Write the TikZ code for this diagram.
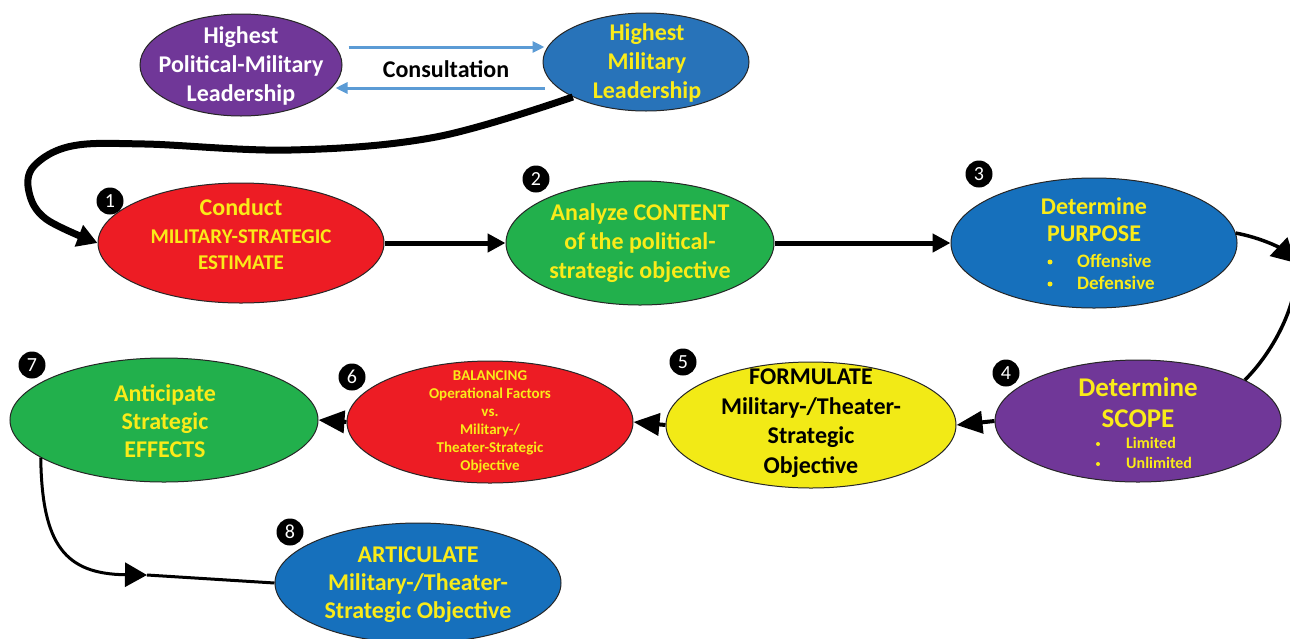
\documentclass[tikz,border=0pt]{standalone}
\usepackage{fontspec}
\setmainfont{Carlito}
\usetikzlibrary{arrows.meta,shapes.geometric}
\definecolor{purpC}{RGB}{112,55,152}
\definecolor{blueC}{RGB}{22,112,188}
\definecolor{blueB}{RGB}{40,115,185}
\definecolor{redC}{RGB}{237,28,36}
\definecolor{greenC}{RGB}{34,176,76}
\definecolor{yellowF}{RGB}{242,234,22}
\definecolor{txtY}{RGB}{250,235,25}
\definecolor{lblue}{RGB}{91,155,213}
\tikzset{
  oval/.style={ellipse, draw=black!85, line width=1pt, inner sep=0pt},
  tx/.style={font=\bfseries\fontsize{24}{29}\selectfont, align=center, inner sep=0pt, text=txtY},
  small/.style={font=\bfseries\fontsize{#1}{#1}\selectfont, inner sep=0pt, text=txtY},
  bul/.style={circle, fill=txtY, minimum size=#1, inner sep=0pt},
  badge/.style={circle, fill=black, text=white, minimum size=27pt, inner sep=0pt, font=\fontsize{20}{20}\selectfont},
  arrA/.style={line width=5pt, -{Triangle[length=18pt,width=18pt]}},
  arrB/.style={line width=4pt, -{Triangle[length=26pt,width=22pt]}},
  bigarr/.style={line width=7pt, -{Triangle[length=20pt,width=22pt]}},
  midarr/.style={line width=3.5pt, -{Triangle[length=24pt,width=25pt]}},
  plainline/.style={line width=3.5pt},
  cons/.style={draw=lblue, line width=3pt, -{Triangle[length=12pt,width=11pt]}},
}
\begin{document}
\begin{tikzpicture}[x=1pt,y=-1pt]
\clip (0,0) rectangle (1290,638);
\fill[white] (0,0) rectangle (1290,638);

% top row
\node[oval, fill=purpC, minimum width=202pt, minimum height=102pt] (A) at (241,65) {};
\node[tx, text=white] (At) at (241,66) {Highest\\Political-Military\\Leadership};
\node[oval, fill=blueB, minimum width=206pt, minimum height=98pt] (B) at (646,62) {};
\node[tx] (Bt) at (647,63) {Highest\\Military\\Leadership};
\node[tx, text=black] (cons) at (446,69) {Consultation};
\draw[cons] ([shift={(6,-18)}]A.east) -- ([shift={(2,-15)}]B.west);
\draw[cons] ([shift={(2,26)}]B.west) -- ([shift={(-7,23)}]A.east);

% step 1
\node[oval, fill=redC, minimum width=286pt, minimum height=120pt] (E1) at (241,243) {};
\node[tx] (E1t) at (241,234) {Conduct\\[-1pt]{\fontsize{21}{26}\selectfont MILITARY-STRATEGIC}\\[-3pt]{\fontsize{21}{26}\selectfont ESTIMATE}};
\node[badge] (n1) at (110,201) {1};

% step 2
\node[oval, fill=greenC, minimum width=268pt, minimum height=124pt] (E2) at (640,243) {};
\node[tx] (E2t) at (640,243) {Analyze CONTENT\\of the political-\\strategic objective};
\node[badge] (n2) at (536,179) {2};

% step 3
\node[oval, fill=blueC, minimum width=286pt, minimum height=130pt] (E3) at (1094,243) {};
\node[tx] (E3t) at (1094,219.5) {Determine\\[-2pt]PURPOSE};
\node[bul=5pt] (E3b1) at (1050,262) {};
\node[small=19, anchor=west] (E3o) at (1077,261) {Offensive};
\node[bul=5pt] (E3b2) at (1050,284) {};
\node[small=19, anchor=west] (E3d) at (1077,283) {Defensive};
\node[badge] (n3) at (979,174) {3};

% step 4
\node[oval, fill=purpC, minimum width=286pt, minimum height=122pt] (E4) at (1138,421) {};
\node[tx, font=\bfseries\fontsize{27}{31}\selectfont] (E4t) at (1138,402.5) {Determine\\SCOPE};
\node[bul=4pt] (E4b1) at (1098,444) {};
\node[small=16, anchor=west] (E4l) at (1126,443) {Limited};
\node[bul=4pt] (E4b2) at (1098,464) {};
\node[small=16, anchor=west] (E4u) at (1126,463) {Unlimited};
\node[badge] (n4) at (1006,373) {4};

% step 5
\node[oval, fill=yellowF, minimum width=290pt, minimum height=126pt] (E5) at (811,425) {};
\node[tx, text=black, font=\bfseries\fontsize{24}{29.6}\selectfont] (E5t) at (811,423) {FORMULATE\\Military-/Theater-\\Strategic\\Objective};
\node[badge] (n5) at (683,362) {5};

% step 6
\node[oval, fill=redC, minimum width=286pt, minimum height=122pt] (E6) at (490,422) {};
\node[tx, font=\bfseries\fontsize{15}{18}\selectfont] (E6t) at (490,422) {BALANCING\\Operational Factors\\vs.\\Military-/\\Theater-Strategic\\Objective};
\node[badge] (n6) at (352,377) {6};

% step 7
\node[oval, fill=greenC, minimum width=308pt, minimum height=124pt] (E7) at (164,420) {};
\node[tx, font=\bfseries\fontsize{24}{28}\selectfont] (E7t) at (165,421) {Anticipate\\Strategic\\EFFECTS};
\node[badge] (n7) at (32,365) {7};

% step 8
\node[oval, fill=blueC, minimum width=286pt, minimum height=120pt] (E8) at (418,583) {};
\node[tx, font=\bfseries\fontsize{24}{28}\selectfont] (E8t) at (418,585) {ARTICULATE\\Military-/Theater-\\Strategic Objective};
\node[badge] (n8) at (290,532) {8};

% connectors
\draw[bigarr] plot[smooth, tension=0.6] coordinates {(B.south west) (436,137) (291,150) (145,144) (72,146) (34,166) (29,192) (46,219) (E1.west)};
\draw[arrA] (E1.east) -- (E2.west);
\draw[arrA] (E2.east) -- (E3.west);
\coordinate (c34) at (1296,263);
\draw[midarr] (E3.4) .. controls (1262,238) and (1280,248) .. (c34);
\draw[plainline] (c34) .. controls (1300,300) and (1275,350) .. (E4.21);
\draw[arrB] (E4.west) -- (E5.east);
\draw[arrB] (E5.west) -- (E6.east);
\draw[arrB] (E6.west) -- (E7.east);
\coordinate (c78) at (147,575);
\draw[line width=3pt, -{Triangle[length=22pt,width=24pt]}] (E7.197) .. controls (42,545) and (65,574) .. (c78);
\draw[line width=3pt] (c78) -- (E8.west);
\end{tikzpicture}
\end{document}
